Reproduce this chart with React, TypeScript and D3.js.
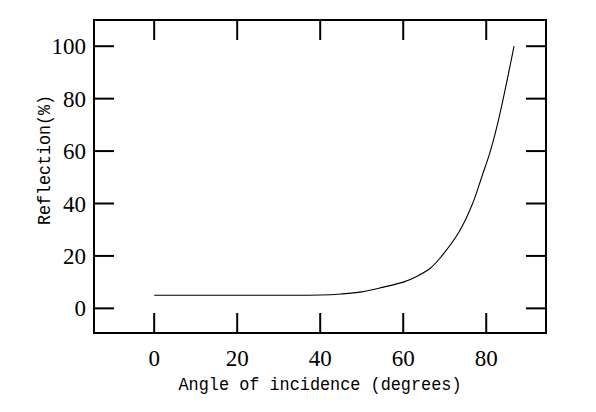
import * as d3 from "d3";
import React from "react";

// incidence angle (deg) vs reflection (%)
const angles = [0, 10, 20, 30, 40, 45, 50, 55, 60, 63, 66.6, 69.3, 73.4, 76.6, 79, 81, 82.6, 84.1, 86.7];
const reflection = [5, 5, 5, 5, 5.1, 5.5, 6.3, 8, 10, 12, 15.4, 20, 29, 39.5, 50.5, 60, 69.5, 80, 100];

const xTicks = [0, 20, 40, 60, 80];
const yTicks = [0, 20, 40, 60, 80, 100];

const W = 596;
const H = 412;
const m = { top: 20, right: 50, bottom: 79, left: 94 };

export default function App() {
  const x = d3.scaleLinear().domain([-14.5, 94.4]).range([m.left, W - m.right]);
  const y = d3.scaleLinear().domain([-9.4, 110]).range([H - m.bottom, m.top]);

  const pts = angles.map((a, i) => ({ a, r: reflection[i] }));
  const line = d3
    .line<{ a: number; r: number }>()
    .x((d) => x(d.a))
    .y((d) => y(d.r))
    .curve(d3.curveCatmullRom.alpha(0.5));

  const tickLen = 20;
  const numFont = "'Liberation Serif', 'Times New Roman', serif";
  const monoFont = "'Liberation Mono', 'DejaVu Sans Mono', monospace";
  const x0 = m.left;
  const x1 = W - m.right;
  const y0 = H - m.bottom;
  const y1 = m.top;

  return (
    <svg
      width={W}
      height={H}
      viewBox={`0 0 ${W} ${H}`}
      style={{ position: "absolute", left: 0, top: 0, background: "#fff" }}
    >
      {/* curve */}
      <path d={line(pts) ?? undefined} fill="none" stroke="#000" strokeWidth={1.1} />

      {/* x ticks, bottom and top */}
      {xTicks.map((t) => (
        <g key={`x-${t}`}>
          <line x1={x(t)} x2={x(t)} y1={y0} y2={y0 - tickLen} stroke="#000" strokeWidth={2} />
          <line x1={x(t)} x2={x(t)} y1={y1} y2={y1 + tickLen} stroke="#000" strokeWidth={2} />
          <text
            x={x(t)}
            y={y0 + 33}
            textAnchor="middle"
            fontFamily={numFont}
            fontSize={23}
            fill="#000"
          >
            {t}
          </text>
        </g>
      ))}

      {/* y ticks, left and right */}
      {yTicks.map((t) => (
        <g key={`y-${t}`}>
          <line x1={x0} x2={x0 + tickLen} y1={y(t)} y2={y(t)} stroke="#000" strokeWidth={2} />
          <line x1={x1} x2={x1 - tickLen} y1={y(t)} y2={y(t)} stroke="#000" strokeWidth={2} />
          <text
            x={x0 - 8}
            y={y(t) + 8}
            textAnchor="end"
            fontFamily={numFont}
            fontSize={23}
            fill="#000"
          >
            {t}
          </text>
        </g>
      ))}

      {/* frame */}
      <rect x={x0} y={y1} width={x1 - x0} height={y0 - y1} fill="none" stroke="#000" strokeWidth={2} />

      {/* axis titles */}
      <text
        x={(x0 + x1) / 2}
        y={390}
        textAnchor="middle"
        fontFamily={monoFont}
        fontSize={19}
        textLength={283}
        lengthAdjust="spacingAndGlyphs"
        fill="#000"
      >
        Angle of incidence (degrees)
      </text>
      <text
        transform={`translate(50,160) rotate(-90)`}
        textAnchor="middle"
        fontFamily={monoFont}
        fontSize={19}
        textLength={130}
        lengthAdjust="spacingAndGlyphs"
        fill="#000"
      >
        Reflection(%)
      </text>
    </svg>
  );
}
